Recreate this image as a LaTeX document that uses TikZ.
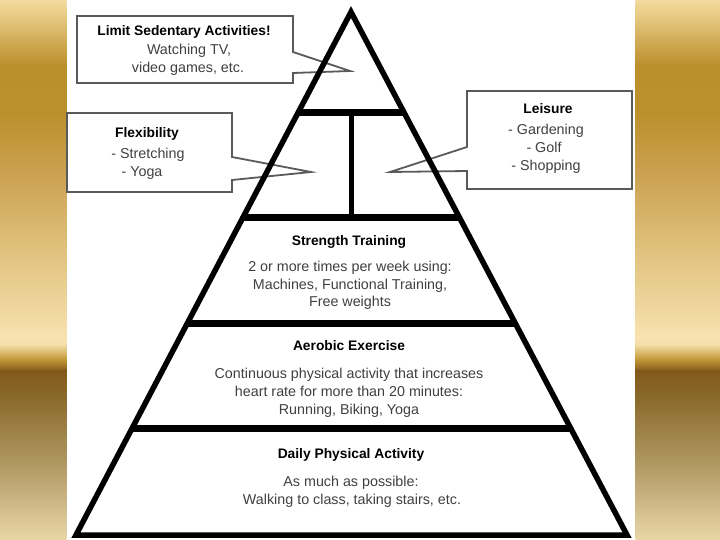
\documentclass[tikz,border=0pt]{standalone}
\usepackage{fontspec}
\setmainfont{Liberation Sans}
\definecolor{g0}{HTML}{F3DCA0}
\definecolor{g1}{HTML}{D8B463}
\definecolor{g2}{HTML}{BB8F2B}
\definecolor{g3}{HTML}{BC902C}
\definecolor{g4}{HTML}{CBA150}
\definecolor{g5}{HTML}{E2C582}
\definecolor{g6}{HTML}{F0D79F}
\definecolor{g7}{HTML}{F8E3B0}
\definecolor{g8}{HTML}{F3DCA5}
\definecolor{g9}{HTML}{C59A3A}
\definecolor{g10}{HTML}{82591A}
\definecolor{g11}{HTML}{8A6A2C}
\definecolor{g12}{HTML}{B29A64}
\definecolor{g13}{HTML}{CBB585}
\definecolor{g14}{HTML}{EAD7A8}
\definecolor{boxgray}{HTML}{5A5A5A}
\begin{document}
\begin{tikzpicture}[x=1pt,y=-1pt,
  ttl/.style={font=\fontsize{13.8}{16}\selectfont\bfseries, text=black, anchor=base, inner sep=0pt},
  txt/.style={font=\fontsize{14.3}{16}\selectfont, text=black!75, anchor=base, inner sep=0pt},
  pyredge/.style={line width=5.5pt, line join=miter, miter limit=20},
  divider/.style={line width=7pt},
  calloutbox/.style={draw=boxgray, line width=1.8pt, fill=white, line join=miter}]
\useasboundingbox (0,0) rectangle (720,540);
\fill[white] (0,0) rectangle (720,540);
% gold side bands
\foreach \ya/\ca/\yb/\cb in {0/g0/34/g1, 34/g1/65/g2, 65/g2/114/g3, 114/g3/172/g4, 172/g4/259/g5, 259/g5/310/g6, 310/g6/338/g7, 338/g7/345/g8, 345/g8/359/g9, 359/g9/371/g10, 371/g10/397/g11, 397/g11/466/g12, 466/g12/500/g13, 500/g13/540/g14}
  \foreach \xa/\xb in {0/66.5, 635.5/720}
    \shade[top color=\ca, bottom color=\cb] (\xa,\ya-0.3) rectangle (\xb,\yb+0.3);
% pyramid
\coordinate (apex) at (351,12);
\coordinate (bl) at (76,535);
\coordinate (br) at (627,535);
\begin{scope}
  \clip (apex) -- (bl) -- (br) -- cycle;
  \foreach \y in {113,218,323,428} \draw[divider] (60,\y) -- (650,\y);
  \draw[line width=5pt] (351,113) -- (351,218);
\end{scope}
% callouts
\draw[calloutbox] (77,16) -- (293,16) -- (293,52) -- (350,71) -- (293,73) -- (293,83) -- (77,83) -- cycle;
\draw[calloutbox] (67,113) -- (232,113) -- (232,157) -- (311,172) -- (232,180) -- (232,192) -- (67,192) -- cycle;
\draw[calloutbox] (632,91) -- (632,189) -- (467,189) -- (467,171) -- (390,172) -- (467,147) -- (467,91) -- cycle;
\draw[pyredge] (apex) -- (bl) -- (br) -- cycle;
% texts
\node[ttl] (limT) at (184,36) {Limit Sedentary Activities!};
\node[txt] (lim1) at (189,55) {Watching TV,};
\node[txt] (lim2) at (188,73) {video games, etc.};
\node[ttl] (flxT) at (147,138) {Flexibility};
\node[txt] (flx1) at (148,159) {- Stretching};
\node[txt] (flx2) at (142,177) {- Yoga};
\node[ttl] (leiT) at (548,114) {Leisure};
\node[txt] (lei1) at (546,135) {- Gardening};
\node[txt] (lei2) at (544,153) {- Golf};
\node[txt] (lei3) at (546,171) {- Shopping};
\node[ttl] (strT) at (349,245) {Strength Training};
\node[txt] (str1) at (350,271) {2 or more times per week using:};
\node[txt] (str2) at (350,289) {Machines, Functional Training,};
\node[txt] (str3) at (350,306) {Free weights};
\node[ttl] (aerT) at (349,350) {Aerobic Exercise};
\node[txt] (aer1) at (349,378) {Continuous physical activity that increases};
\node[txt] (aer2) at (349,396) {heart rate for more than 20 minutes:};
\node[txt] (aer3) at (349,414) {Running, Biking, Yoga};
\node[ttl] (dayT) at (351,458) {Daily Physical Activity};
\node[txt] (day1) at (351,486) {As much as possible:};
\node[txt] (day2) at (352,504) {Walking to class, taking stairs, etc.};
\end{tikzpicture}
\end{document}
